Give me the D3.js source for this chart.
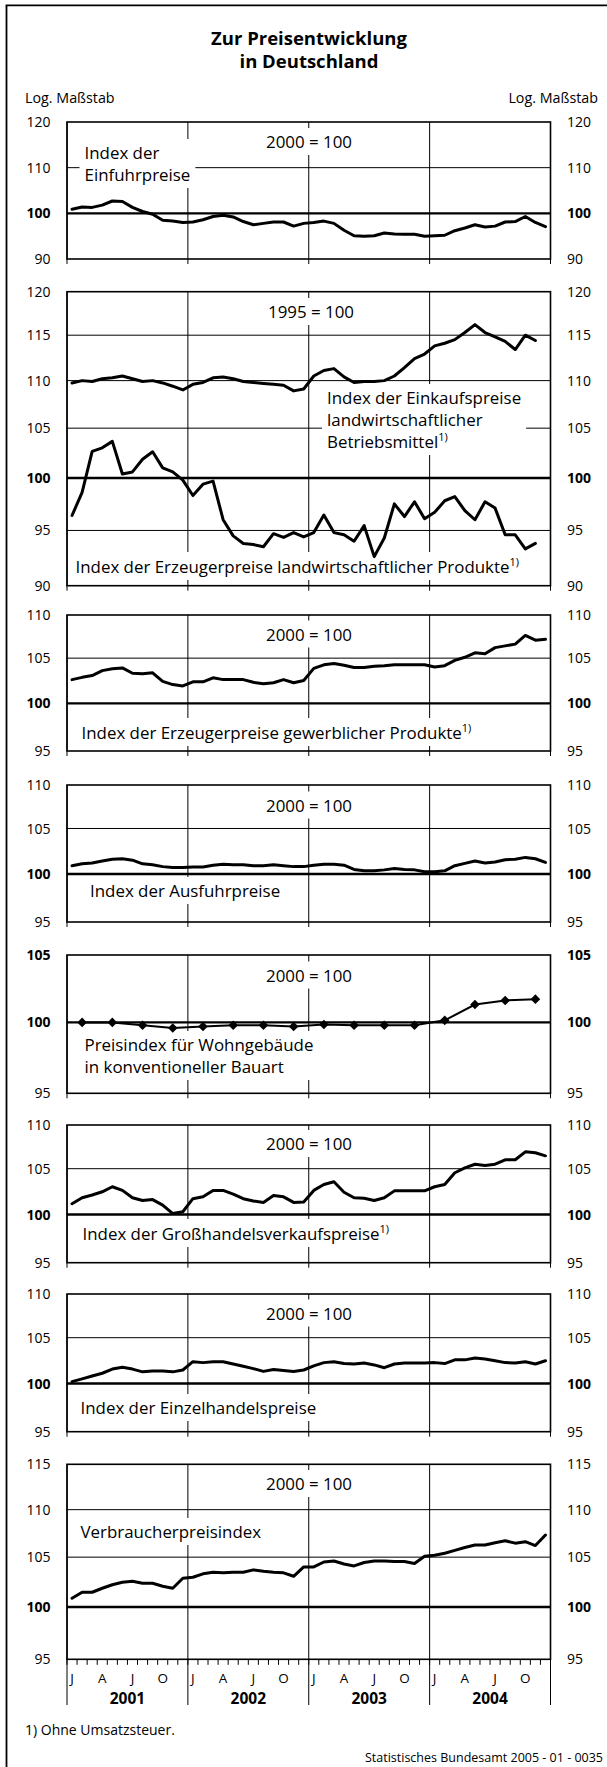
<!DOCTYPE html>
<html>
<head>
<meta charset="utf-8">
<script src="https://cdn.jsdelivr.net/npm/d3@7"></script>
<style>
  body { margin: 0; background: #fff; }
  svg { display: block; font-family: "Open Sans", sans-serif; }
</style>
</head>
<body>
<div id="chart"></div>
<script>
// ---- data ----
var years = ["2001", "2002", "2003", "2004"];
var monthLetters = ["J", "", "", "A", "", "", "J", "", "", "O", "", ""];
var quarterMonths = ["02", "05", "08", "11"];

var ticks1 = [120, 110, 100, 90];
var ticks2 = [120, 115, 110, 105, 100, 95, 90];
var ticksMid = [110, 105, 100, 95];
var ticks5 = [105, 100, 95];
var ticks8 = [115, 110, 105, 100, 95];

var einfuhr = [100.9,101.4,101.3,101.8,102.7,102.6,101.3,100.4,99.8,98.5,98.3,98.0,
  98.1,98.6,99.3,99.6,99.2,98.2,97.5,97.8,98.1,98.1,97.2,97.8,
  98.0,98.3,97.8,96.3,95.1,95.0,95.1,95.7,95.5,95.4,95.4,95.0,
  95.1,95.2,96.2,96.8,97.5,97.0,97.2,98.1,98.2,99.3,98.0,97.1];

var einkauf = [109.75,110.0,109.9,110.2,110.3,110.5,110.2,109.9,110.0,109.75,109.4,109.0,
  109.6,109.8,110.3,110.4,110.2,109.9,109.8,109.7,109.6,109.5,108.9,109.1,
  110.5,111.1,111.3,110.4,109.8,109.9,109.9,110.0,110.5,111.4,112.4,112.9,
  113.8,114.1,114.5,115.3,116.2,115.3,114.8,114.3,113.4,115.0,114.4];

var erzeugerLandw = [96.4,98.6,102.65,103.0,103.65,100.4,100.6,101.85,102.6,101.0,100.6,99.8,
  98.3,99.4,99.7,96.0,94.5,93.8,93.7,93.5,94.7,94.35,94.8,94.4,
  94.8,96.45,94.8,94.6,94.0,95.45,92.6,94.3,97.5,96.3,97.7,96.1,
  96.7,97.8,98.2,96.85,96.0,97.7,97.1,94.6,94.6,93.3,93.8];

var erzeugerGew = [102.6,102.85,103.05,103.6,103.8,103.9,103.3,103.25,103.35,102.4,102.05,101.9,
  102.35,102.35,102.8,102.6,102.6,102.6,102.3,102.15,102.25,102.6,102.25,102.5,
  103.85,104.25,104.4,104.2,103.95,103.95,104.1,104.15,104.25,104.25,104.25,104.25,
  104.0,104.15,104.75,105.1,105.6,105.5,106.2,106.4,106.6,107.6,107.05,107.15];

var ausfuhr = [100.9,101.1,101.2,101.4,101.6,101.65,101.5,101.1,101.0,100.8,100.7,100.7,
  100.75,100.75,100.95,101.05,101.0,101.0,100.9,100.9,101.0,100.9,100.8,100.8,
  100.95,101.05,101.05,100.95,100.5,100.35,100.35,100.45,100.6,100.5,100.45,100.25,
  100.25,100.35,100.9,101.15,101.4,101.2,101.3,101.55,101.6,101.8,101.65,101.25];

var wohngebaeude = [100.0,100.0,99.8,99.6, 99.7,99.8,99.8,99.7,
  99.85,99.8,99.8,99.8, 100.15,101.3,101.6,101.7];

var grosshandel = [101.15,101.8,102.1,102.45,103.0,102.6,101.8,101.5,101.6,101.0,100.1,100.3,
  101.7,101.9,102.6,102.6,102.2,101.7,101.45,101.3,102.05,101.9,101.3,101.35,
  102.6,103.25,103.55,102.4,101.8,101.75,101.5,101.8,102.55,102.55,102.55,102.55,
  103.0,103.25,104.55,105.1,105.5,105.35,105.5,106.0,106.0,106.9,106.8,106.45];

var einzelhandel = [100.2,100.5,100.8,101.1,101.55,101.75,101.55,101.25,101.35,101.35,101.25,101.45,
  102.35,102.25,102.35,102.35,102.1,101.85,101.6,101.3,101.5,101.4,101.3,101.45,
  101.9,102.25,102.35,102.15,102.1,102.2,102.0,101.7,102.1,102.2,102.2,102.2,
  102.25,102.15,102.55,102.55,102.75,102.65,102.45,102.25,102.2,102.35,102.1,102.45];

var vpi = [100.85,101.45,101.45,101.85,102.2,102.45,102.55,102.35,102.35,102.05,101.85,102.85,
  102.95,103.3,103.45,103.4,103.45,103.45,103.7,103.55,103.45,103.4,103.05,104.0,
  104.0,104.5,104.6,104.3,104.1,104.45,104.6,104.6,104.55,104.55,104.35,105.1,
  105.2,105.4,105.7,106.0,106.25,106.25,106.5,106.7,106.45,106.6,106.2,107.3];

// ---- layout ----
var W = 607, H = 1767;
var plotLeft = 67, plotRight = 550.5;

var svg = d3.select("#chart").append("svg").attr("width", W).attr("height", H);

var monthKeys = [];
years.forEach(function (y) {
  for (var m = 1; m <= 12; m++) monthKeys.push(y + "-" + (m < 10 ? "0" : "") + m);
});
var x = d3.scaleBand().domain(monthKeys).range([plotLeft, plotRight]);
function xc(k) { return x(k) + x.bandwidth() / 2; }

function monthly(values) {
  return values.map(function (v, i) { return { key: monthKeys[i], v: v }; });
}
function quarterly(values) {
  var out = [];
  values.forEach(function (v, i) {
    out.push({ key: years[Math.floor(i / 4)] + "-" + quarterMonths[i % 4], v: v });
  });
  return out;
}

var panels = [
  { top: 122, bottom: 259, domain: [90, 120], linear: true, ticks: ticks1, bold: [100],
    series: [monthly(einfuhr)],
    labels: [
      { lines: [["2000 = 100"]], x: 309, y: 148, anchor: "middle" },
      { lines: [["Index der"], ["Einfuhrpreise"]], x: 84.5, y: 159, anchor: "start" }
    ] },
  { top: 291.7, bottom: 585.7, domain: [90, 120], ticks: ticks2, bold: [100],
    series: [monthly(einkauf), monthly(erzeugerLandw)],
    labels: [
      { lines: [["1995 = 100"]], x: 311, y: 318, anchor: "middle" },
      { lines: [["Index der Einkaufspreise"], ["landwirtschaftlicher"], ["Betriebsmittel", "1)"]], x: 327, y: 404, anchor: "start" },
      { lines: [["Index der Erzeugerpreise landwirtschaftlicher Produkte", "1)"]], x: 75.5, y: 573, anchor: "start" }
    ] },
  { top: 615, bottom: 751, domain: [95, 110], ticks: ticksMid, bold: [100],
    series: [monthly(erzeugerGew)],
    labels: [
      { lines: [["2000 = 100"]], x: 309, y: 640.5, anchor: "middle" },
      { lines: [["Index der Erzeugerpreise gewerblicher Produkte", "1)"]], x: 81.5, y: 739, anchor: "start" }
    ] },
  { top: 785, bottom: 922, domain: [95, 110], ticks: ticksMid, bold: [100],
    series: [monthly(ausfuhr)],
    labels: [
      { lines: [["2000 = 100"]], x: 309, y: 811.5, anchor: "middle" },
      { lines: [["Index der Ausfuhrpreise"]], x: 90, y: 897, anchor: "start" }
    ] },
  { top: 955, bottom: 1093.3, domain: [95, 105], ticks: ticks5, bold: [105, 100],
    series: [], markers: quarterly(wohngebaeude),
    labels: [
      { lines: [["2000 = 100"]], x: 309, y: 981.5, anchor: "middle" },
      { lines: [["Preisindex für Wohngebäude"], ["in konventioneller Bauart"]], x: 84.5, y: 1051, anchor: "start" }
    ] },
  { top: 1125, bottom: 1262.7, domain: [95, 110], ticks: ticksMid, bold: [100],
    series: [monthly(grosshandel)],
    labels: [
      { lines: [["2000 = 100"]], x: 309, y: 1150, anchor: "middle" },
      { lines: [["Index der Großhandelsverkaufspreise", "1)"]], x: 82.5, y: 1240, anchor: "start" }
    ] },
  { top: 1294, bottom: 1431.7, domain: [95, 110], ticks: ticksMid, bold: [100],
    series: [monthly(einzelhandel)],
    labels: [
      { lines: [["2000 = 100"]], x: 309, y: 1319.5, anchor: "middle" },
      { lines: [["Index der Einzelhandelspreise"]], x: 80.5, y: 1414, anchor: "start" }
    ] },
  { top: 1464.3, bottom: 1659.3, domain: [95, 115], ticks: ticks8, bold: [100],
    series: [monthly(vpi)],
    labels: [
      { lines: [["2000 = 100"]], x: 309, y: 1490, anchor: "middle" },
      { lines: [["Verbraucherpreisindex"]], x: 80.5, y: 1538, anchor: "start" }
    ] }
];

// outer frame (top and left only)
svg.append("line").attr("x1", 5.7).attr("x2", W).attr("y1", 5.3).attr("y2", 5.3)
  .attr("stroke", "#000").attr("stroke-width", 1.8);
svg.append("line").attr("x1", 6.5).attr("x2", 6.5).attr("y1", 5.3).attr("y2", H)
  .attr("stroke", "#000").attr("stroke-width", 1.8);

// title
svg.append("text").attr("x", 309).attr("y", 45).attr("text-anchor", "middle")
  .style("font-size", "18.5px").style("font-weight", "bold").text("Zur Preisentwicklung");
svg.append("text").attr("x", 309).attr("y", 68).attr("text-anchor", "middle")
  .style("font-size", "18.5px").style("font-weight", "bold").text("in Deutschland");
svg.append("text").attr("x", 25).attr("y", 103).style("font-size", "14.3px").text("Log. Maßstab");
svg.append("text").attr("x", 598).attr("y", 103).attr("text-anchor", "end")
  .style("font-size", "14.3px").text("Log. Maßstab");

var yearEdges = years.map(function (y) { return x(y + "-01"); }).concat([plotRight]);

panels.forEach(function (p, pi) {
  var last = pi === panels.length - 1;
  var y = (p.linear ? d3.scaleLinear() : d3.scaleLog()).domain(p.domain).range([p.bottom, p.top]);
  var g = svg.append("g");

  // horizontal grid lines
  g.selectAll(".grid").data(p.ticks.filter(function (t) { return t !== p.domain[0] && t !== p.domain[1] && t !== 100; }))
    .enter().append("line")
    .attr("x1", plotLeft).attr("x2", plotRight)
    .attr("y1", function (d) { return y(d); }).attr("y2", function (d) { return y(d); })
    .attr("stroke", "#000").attr("stroke-width", 1);

  // year dividers, extended below the axis
  g.selectAll(".div").data(yearEdges).enter().append("line")
    .attr("x1", function (d) { return d; }).attr("x2", function (d) { return d; })
    .attr("y1", p.top).attr("y2", last ? 1705 : p.bottom + 5)
    .attr("stroke", "#000").attr("stroke-width", 1);

  // reference line 100
  g.append("line").attr("x1", plotLeft).attr("x2", plotRight)
    .attr("y1", y(100)).attr("y2", y(100))
    .attr("stroke", "#000").attr("stroke-width", 2.4);

  // labels with white knock-out boxes
  p.labels.forEach(function (lab) {
    var lg = g.append("g");
    var t = lg.append("text").attr("x", lab.x).attr("y", lab.y)
      .attr("text-anchor", lab.anchor).style("font-size", "16.9px");
    lab.lines.forEach(function (ln, li) {
      t.append("tspan").attr("x", lab.x).attr("y", lab.y + li * 22).text(ln[0]);
      if (ln[1]) {
        t.append("tspan").attr("dy", -7).style("font-size", "11px").text(ln[1]);
      }
    });
    var bb = t.node().getBBox();
    lg.insert("rect", "text").attr("x", bb.x - 5).attr("y", bb.y - 2)
      .attr("width", bb.width + 10).attr("height", bb.height + 4).attr("fill", "#fff");
  });

  // plot frame
  g.append("rect").attr("x", plotLeft).attr("y", p.top)
    .attr("width", plotRight - plotLeft).attr("height", p.bottom - p.top)
    .attr("fill", "none").attr("stroke", "#000").attr("stroke-width", 1.6);

  // tick labels both sides
  p.ticks.forEach(function (t) {
    var isBold = p.bold.indexOf(t) >= 0;
    g.append("text").attr("x", 50.5).attr("y", y(t)).attr("dy", "0.36em")
      .attr("text-anchor", "end").style("font-size", "14px")
      .style("font-weight", isBold ? "bold" : "normal").text(t);
    g.append("text").attr("x", 567).attr("y", y(t)).attr("dy", "0.36em")
      .attr("text-anchor", "start").style("font-size", "14px")
      .style("font-weight", isBold ? "bold" : "normal").text(t);
  });

  // data lines
  var line = d3.line().x(function (d) { return xc(d.key); }).y(function (d) { return y(d.v); });
  p.series.forEach(function (s) {
    g.append("path").datum(s).attr("d", line).attr("fill", "none")
      .attr("stroke", "#000").attr("stroke-width", 3)
      .attr("stroke-linejoin", "round").attr("stroke-linecap", "round");
  });

  if (p.markers) {
    g.append("path").datum(p.markers).attr("d", line).attr("fill", "none")
      .attr("stroke", "#000").attr("stroke-width", 2);
    g.selectAll(".mk").data(p.markers).enter().append("path")
      .attr("d", d3.symbol().type(d3.symbolSquare).size(46))
      .attr("transform", function (d) { return "translate(" + xc(d.key) + "," + y(d.v) + ") rotate(45)"; })
      .attr("fill", "#000");
  }

  if (last) {
    // month ticks
    g.selectAll(".mt").data(monthKeys).enter().append("line")
      .attr("x1", function (d) { return x(d); }).attr("x2", function (d) { return x(d); })
      .attr("y1", p.bottom).attr("y2", p.bottom + 5.5)
      .attr("stroke", "#000").attr("stroke-width", 1);
    g.selectAll(".ml").data(monthKeys).enter().append("text")
      .attr("x", function (d) { return xc(d); }).attr("y", 1683)
      .attr("text-anchor", "middle").style("font-size", "13.5px")
      .text(function (d, i) { return monthLetters[i % 12]; });
    g.selectAll(".yl").data(years).enter().append("text")
      .attr("x", function (d, i) { return (yearEdges[i] + yearEdges[i + 1]) / 2; })
      .attr("y", 1704).attr("text-anchor", "middle")
      .style("font-size", "15.5px").style("font-weight", "bold")
      .text(function (d) { return d; });
  }
});

svg.append("text").attr("x", 25).attr("y", 1735).style("font-size", "14px").text("1) Ohne Umsatzsteuer.");
svg.append("text").attr("x", 603).attr("y", 1762).attr("text-anchor", "end")
  .style("font-size", "12.5px").text("Statistisches Bundesamt 2005 - 01 - 0035");
</script>
</body>
</html>
